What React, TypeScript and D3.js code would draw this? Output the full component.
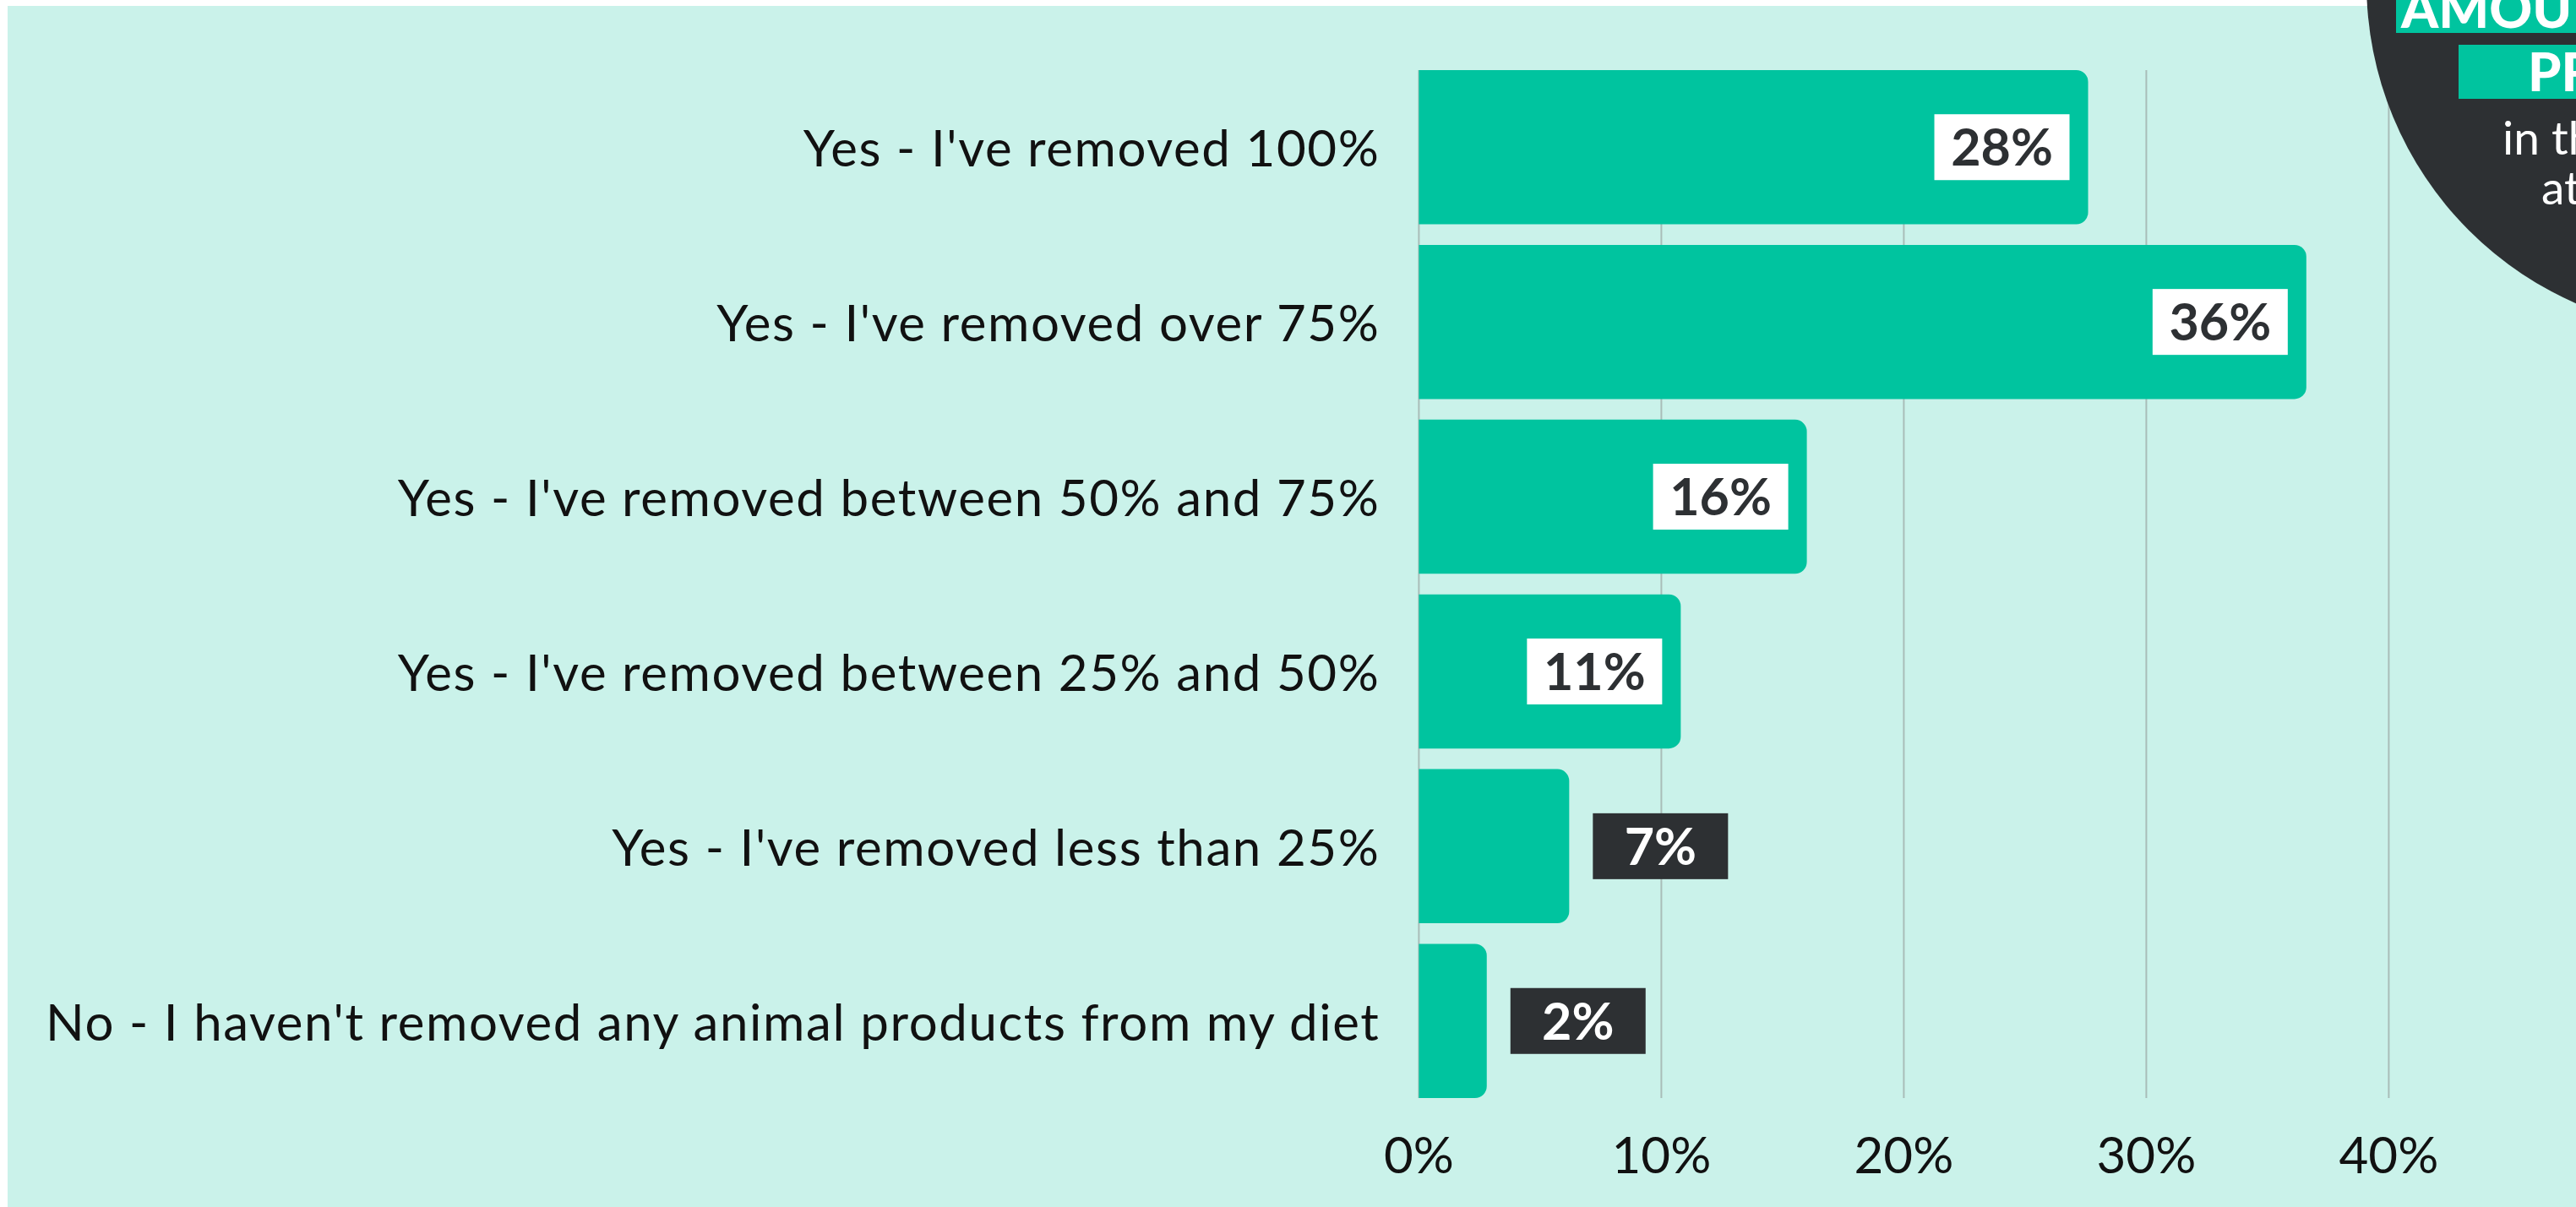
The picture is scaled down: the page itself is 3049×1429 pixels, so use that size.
import React from "react";
import * as d3 from "d3";

const categories = [
  "Yes - I've removed 100%",
  "Yes - I've removed over 75%",
  "Yes - I've removed between 50% and 75%",
  "Yes - I've removed between 25% and 50%",
  "Yes - I've removed less than 25%",
  "No - I haven't removed any animal products from my diet",
];
const values = [27.6, 36.6, 16.0, 10.8, 6.2, 2.8];
const valueLabels = ["28%", "36%", "16%", "11%", "7%", "2%"];
const xTicks = [0, 10, 20, 30, 40];
const calloutLines = ["AMOUNT OF ANIMAL", "PRODUCTS", "in the past year", "at home"];

const W = 3049;
const H = 1429;
const GREEN = "#00c49f";
const DARK = "#2d3033";
const BG = "#caf2ea";
const FONT = "Lato, 'Open Sans', sans-serif";

function barPath(x0: number, x1: number, y0: number, h: number, r: number) {
  const rr = Math.min(r, (x1 - x0) / 2, h / 2);
  return `M${x0},${y0}H${x1 - rr}A${rr},${rr} 0 0 1 ${x1},${y0 + rr}V${y0 + h - rr}A${rr},${rr} 0 0 1 ${x1 - rr},${y0 + h}H${x0}Z`;
}

export default function App() {
  const x = d3.scaleLinear().domain([0, 40]).range([1679.4, 2827.4]);
  const y = d3.scaleBand<string>().domain(categories).range([83, 1300]).paddingInner(0.118).paddingOuter(0);
  const bw = y.bandwidth();
  const boxW = 160;
  const boxH = 78;

  return (
    <svg
      width={W}
      height={H}
      style={{ position: "absolute", left: 0, top: 0, display: "block" }}
    >
      <rect x={9} y={7} width={W - 9} height={H - 7} fill={BG} />
      {xTicks.map((t) => (
        <line key={"g" + t} x1={x(t)} x2={x(t)} y1={83} y2={1300} stroke="#a9bdb8" strokeWidth={2} />
      ))}
      {categories.map((c, i) => {
        const y0 = y(c)!;
        const v = values[i];
        const cy = y0 + bw / 2;
        const inside = v > 10;
        const bx = inside ? x(v) - 22 - boxW : x(v) + 28;
        return (
          <g key={c}>
            <path d={barPath(x(0), x(v), y0, bw, 14)} fill={GREEN} />
            <text
              x={x(0) - 46}
              y={cy + 23}
              textAnchor="end"
              fontFamily={FONT}
              fontSize={60}
              letterSpacing={1.6}
              fill="#111"
            >
              {c}
            </text>
            <rect x={bx} y={cy - boxH / 2} width={boxW} height={boxH} fill={inside ? "#ffffff" : DARK} />
            <text
              x={bx + boxW / 2}
              y={cy + 22}
              textAnchor="middle"
              fontFamily={FONT}
              fontWeight={700}
              fontSize={61}
              fill={inside ? DARK : "#ffffff"}
            >
              {valueLabels[i]}
            </text>
          </g>
        );
      })}
      {xTicks.map((t) => (
        <text
          key={"t" + t}
          x={x(t)}
          y={1389}
          textAnchor="middle"
          fontFamily={FONT}
          fontSize={60}
          fill="#111"
        >
          {t + "%"}
        </text>
      ))}
      <circle cx={3215} cy={-20} r={414} fill={DARK} />
      <rect x={2836} y={-30} width={600} height={69} fill={GREEN} />
      <text x={2842} y={33} fontFamily={FONT} fontWeight={900} fontSize={63} fill="#fff">
        {calloutLines[0]}
      </text>
      <rect x={2910} y={53} width={600} height={64} fill={GREEN} />
      <text x={2992} y={108} fontFamily={FONT} fontWeight={900} fontSize={63} fill="#fff">
        {calloutLines[1]}
      </text>
      <text x={2962} y={183} fontFamily={FONT} fontWeight={400} fontSize={55} fill="#fff">
        {calloutLines[2]}
      </text>
      <text x={3008} y={242} fontFamily={FONT} fontWeight={400} fontSize={55} fill="#fff">
        {calloutLines[3]}
      </text>
    </svg>
  );
}
